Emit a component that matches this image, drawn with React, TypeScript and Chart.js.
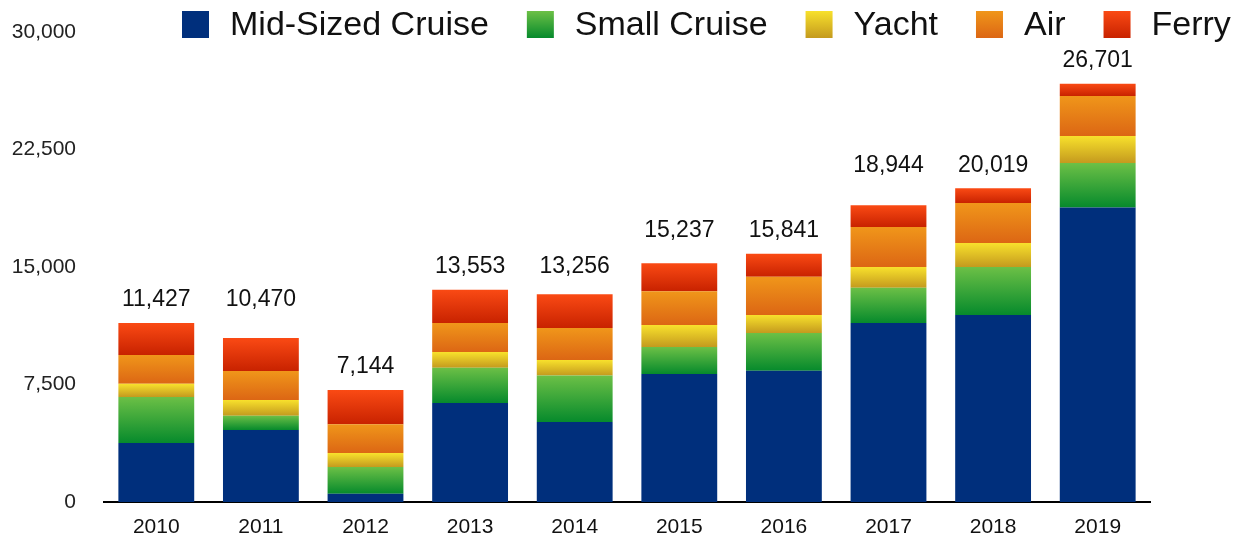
import React, { useEffect, useRef } from 'react';
import { Chart, registerables } from 'chart.js';

Chart.register(...registerables);

const years = ['2010', '2011', '2012', '2013', '2014', '2015', '2016', '2017', '2018', '2019'];
const midSizedCruise = [3770, 4600, 530, 6320, 5110, 8170, 8380, 11430, 11940, 18790];
const smallCruise = [2940, 910, 1700, 2250, 2960, 1720, 2410, 2250, 3060, 2850];
const yacht = [830, 1000, 890, 1000, 1000, 1400, 1150, 1320, 1530, 1720];
const air = [1850, 1850, 1850, 1850, 2040, 2170, 2430, 2550, 2550, 2550];
const ferry = [2037, 2110, 2174, 2133, 2146, 1777, 1471, 1394, 939, 791];
// value level at which each total label sits (labels are paired in the original)
const labelLevels = [11427, 11427, 7144, 13553, 13553, 15841, 15841, 20019, 20019, 26701];
const yMax = 30000;
const yStep = 7500;

const FONT = '"Liberation Sans", Arial, Helvetica, sans-serif';

type Series = { name: string; values: number[]; top: string; bottom: string };

const SERIES: Series[] = [
  { name: 'Mid-Sized Cruise', values: midSizedCruise, top: '#002F7C', bottom: '#002F7C' },
  { name: 'Small Cruise', values: smallCruise, top: '#6CC046', bottom: '#068A2C' },
  { name: 'Yacht', values: yacht, top: '#F8E12C', bottom: '#C49A1E' },
  { name: 'Air', values: air, top: '#F0961A', bottom: '#DC6614' },
  { name: 'Ferry', values: ferry, top: '#FA4A14', bottom: '#C82200' },
];

function gradientFill(seriesIndex: number) {
  const s = SERIES[seriesIndex];
  return (ctx: any) => {
    const chart = ctx.chart;
    const yScale = chart.scales && chart.scales.y;
    if (ctx.type !== 'data' || !yScale || !chart.chartArea) return s.bottom;
    const i = ctx.dataIndex;
    let base = 0;
    for (let k = 0; k < seriesIndex; k++) base += SERIES[k].values[i];
    const v = s.values[i];
    const y0 = yScale.getPixelForValue(base + v);
    const y1 = yScale.getPixelForValue(base);
    if (!isFinite(y0) || !isFinite(y1) || Math.abs(y1 - y0) < 0.5) return s.bottom;
    const g = chart.ctx.createLinearGradient(0, y0, 0, y1);
    g.addColorStop(0, s.top);
    g.addColorStop(1, s.bottom);
    return g;
  };
}

const totalsLabelPlugin = {
  id: 'totalsLabels',
  afterDatasetsDraw(chart: any) {
    const { ctx } = chart;
    const xs = chart.scales.x;
    const ys = chart.scales.y;
    ctx.save();
    ctx.font = `23px ${FONT}`;
    ctx.fillStyle = '#111';
    ctx.textAlign = 'center';
    ctx.textBaseline = 'middle';
    years.forEach((_, i) => {
      const total = SERIES.reduce((a, s) => a + s.values[i], 0);
      const x = xs.getPixelForValue(i);
      const y = ys.getPixelForValue(labelLevels[i]) - 23;
      ctx.fillText(total.toLocaleString('en-US'), x, y);
    });
    ctx.restore();
  },
};

const legendPlugin = {
  id: 'topLegend',
  afterDraw(chart: any) {
    const { ctx } = chart;
    ctx.save();
    ctx.font = `34px ${FONT}`;
    ctx.textBaseline = 'middle';
    ctx.textAlign = 'left';
    const box = 27;
    const boxTop = 11;
    let x = 182;
    SERIES.forEach((s) => {
      const g = ctx.createLinearGradient(0, boxTop, 0, boxTop + box);
      g.addColorStop(0, s.top);
      g.addColorStop(1, s.bottom);
      ctx.fillStyle = g;
      ctx.fillRect(x, boxTop, box, box);
      x += box + 21;
      ctx.fillStyle = '#111';
      ctx.fillText(s.name, x, boxTop + box / 2 + 1);
      x += ctx.measureText(s.name).width + 38;
    });
    ctx.restore();
  },
};

export default function App() {
  const ref = useRef<HTMLCanvasElement | null>(null);

  useEffect(() => {
    if (!ref.current) return;
    const chart = new Chart(ref.current, {
      type: 'bar',
      data: {
        labels: years,
        datasets: SERIES.map((s, idx) => ({
          label: s.name,
          data: s.values,
          backgroundColor: gradientFill(idx),
          borderWidth: 0,
          barPercentage: 0.725,
          categoryPercentage: 1,
        })),
      },
      options: {
        responsive: false,
        animation: false,
        devicePixelRatio: 1,
        layout: { padding: { top: 32, right: 90, left: 0, bottom: 0 } },
        plugins: {
          legend: { display: false },
          tooltip: { enabled: false },
          title: { display: false },
        },
        scales: {
          x: {
            stacked: true,
            grid: { display: false, drawTicks: false },
            border: { display: true, color: '#000', width: 2 },
            ticks: { color: '#111', padding: 13, font: { family: FONT, size: 21 } },
            afterFit: (scale: any) => {
              scale.height = 39;
              scale.paddingLeft = 0;
              scale.paddingRight = 0;
            },
          },
          y: {
            stacked: true,
            min: 0,
            max: yMax,
            grid: { display: false, drawTicks: false },
            border: { display: false },
            ticks: {
              stepSize: yStep,
              color: '#222',
              padding: 28,
              font: { family: FONT, size: 21 },
              callback: (v: any) => Number(v).toLocaleString('en-US'),
            },
            afterFit: (scale: any) => {
              scale.width = 104;
              scale.paddingTop = 0;
              scale.paddingBottom = 0;
            },
          },
        },
      },
      plugins: [totalsLabelPlugin, legendPlugin],
    });
    return () => chart.destroy();
  }, []);

  return (
    <div style={{ position: 'absolute', left: 0, top: 0, width: 1240, height: 541, background: '#fff' }}>
      <canvas ref={ref} width={1240} height={541} style={{ display: 'block' }} />
    </div>
  );
}
